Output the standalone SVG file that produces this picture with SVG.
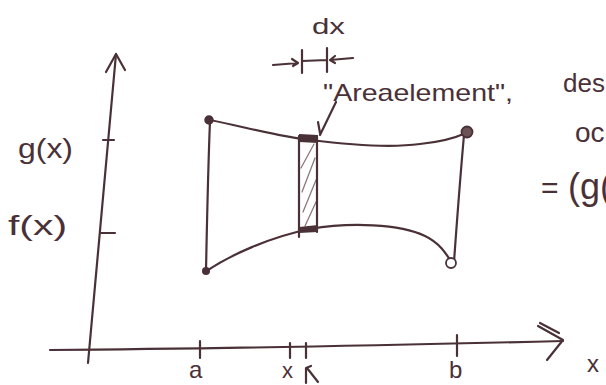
<svg xmlns="http://www.w3.org/2000/svg" width="606" height="385" viewBox="0 0 606 385">
<style>
.s{fill:none;stroke:#4a3137;stroke-width:2.2;stroke-linecap:round;stroke-linejoin:round}
.h{fill:none;stroke:#8a7a7d;stroke-width:1.3;stroke-linecap:round}
.t{fill:#4a3137;font-family:"Liberation Sans","DejaVu Sans",sans-serif}
</style>
<rect width="606" height="385" fill="#ffffff"/>
<g id="axes">
<path class="s" d="M88,363 C95,280 105,170 116,54"/>
<path class="s" d="M106,72 L116,54 L125,70"/>
<path class="s" d="M103,140 L114,140 M101,233 L115,233"/>
<path class="s" d="M50,350 C200,349 400,345 563,341"/>
<path class="s" d="M538,326 L563,340 L547,360 M540,323 L559,333"/>
<path class="s" d="M200,341 L200,358 M290,343 L290,358 M306,343 L306,358 M457,335 L457,356"/>
<path class="s" d="M306,383 L306,368 L311,366 M307,368 L318,382"/>
</g>
<g id="region">
<path class="s" d="M210,120 C245,127 280,137 310,140 C350,145 390,148 420,144 C440,142 455,138 466,133"/>
<path class="s" d="M205,272 C230,255 270,237 310,229 C350,222 400,224 425,236 C440,243 447,255 452,263"/>
<path class="s" d="M210,121 C208,170 207,220 206,271"/>
<path class="s" d="M464,135 C460,180 457,220 454,262"/>
<circle cx="209" cy="120" r="4" fill="#4a3137" stroke="#4a3137" stroke-width="1.5"/>
<circle cx="467" cy="132" r="5.5" fill="#6b5256" stroke="#4a3137" stroke-width="1.8"/>
<circle cx="206" cy="271" r="4" fill="#4a3137"/>
<circle cx="451" cy="263" r="5" fill="#fff" stroke="#4a3137" stroke-width="1.8"/>
</g>
<g id="area-element">
<path class="h" d="M301,168 L314,144 M302,192 L315,158 M303,212 L316,180 M305,226 L316,202"/>
<path class="s" d="M299,136 L299,237 M317,137 L317,232"/>
<path d="M299,134 L318,135 L318,143 L299,142 Z M299,227 L318,225 L318,232 L299,233 Z" fill="#4a3137"/>
<path class="s" stroke-width="1.5" d="M336,102 L320,135 M318,122 L320,133"/>
</g>
<g id="dx-marker">
<path class="s" stroke-width="1.6" d="M273,65 L298,63 M292,59 L298,63 L293,66 M302,50 L302,73 M302,61 L327,60 M327,48 L327,72 M353,58 L330,60 M335,56 L330,60 L335,63"/>
</g>
<g id="labels">
<text class="t" x="312" y="34" font-size="22" textLength="33" lengthAdjust="spacingAndGlyphs">dx</text>
<text class="t" x="323" y="101" font-size="24" textLength="190" lengthAdjust="spacingAndGlyphs">"Areaelement",</text>
<text class="t" x="563" y="92" font-size="26">des</text>
<text class="t" x="575" y="142" font-size="28">oc</text>
<text class="t" x="541" y="198" font-size="30">=</text>
<text class="t" x="568" y="199" font-size="36">(g(</text>
<text class="t" x="18" y="158" font-size="28" textLength="55" lengthAdjust="spacingAndGlyphs">g(x)</text>
<text class="t" x="8" y="235" font-size="28" textLength="59" lengthAdjust="spacingAndGlyphs">f(x)</text>
<text class="t" x="189" y="378" font-size="24">a</text>
<text class="t" x="282" y="378" font-size="22">x</text>
<text class="t" x="449" y="378" font-size="24">b</text>
<text class="t" x="587" y="372" font-size="24">x</text>
</g>
</svg>
